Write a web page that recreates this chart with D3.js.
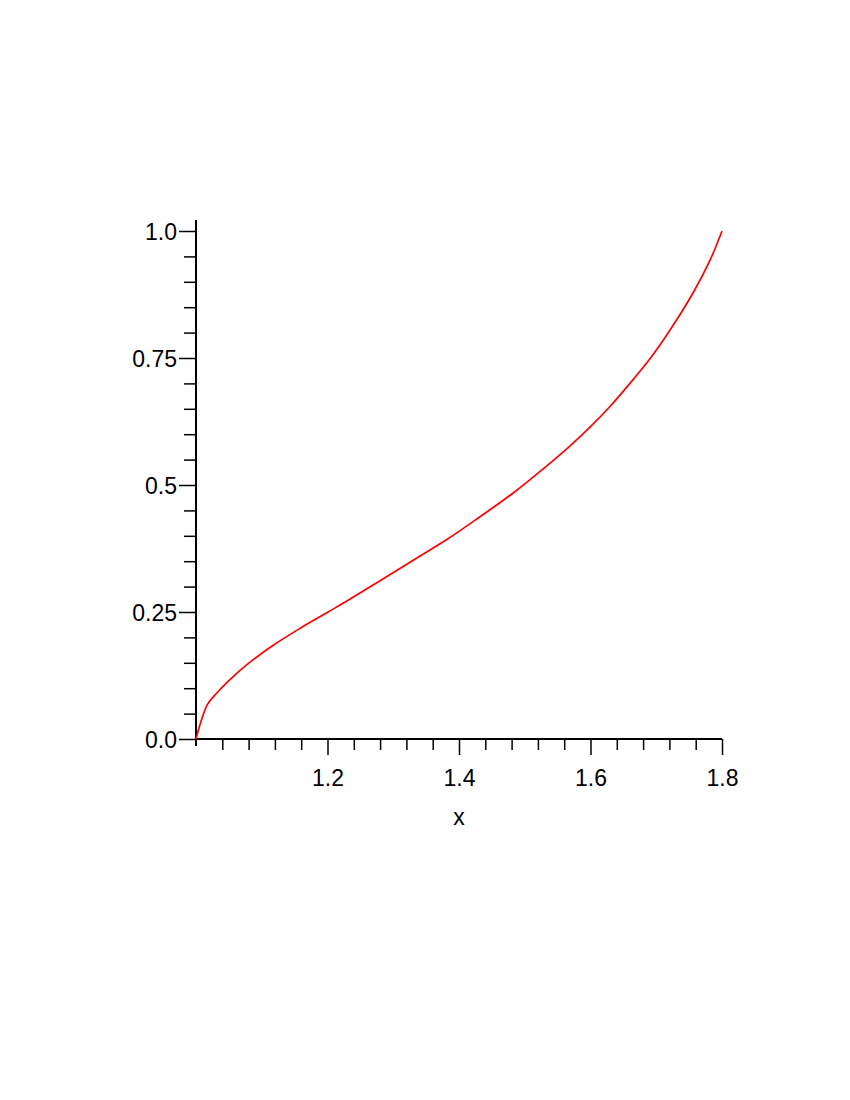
<!DOCTYPE html>
<html>
<head>
<meta charset="utf-8">
<script src="https://cdn.jsdelivr.net/npm/d3@7"></script>
<style>
  body { margin: 0; background: #fff; }
  svg text { font-family: "Liberation Sans", Arial, sans-serif; }
</style>
</head>
<body>
<div id="chart"></div>
<script>
// curve samples
const xValues = [1.0, 1.0175, 1.032, 1.052, 1.077, 1.118, 1.1585, 1.199, 1.232, 1.280, 1.331, 1.382,
                 1.432, 1.483, 1.534, 1.569, 1.600, 1.630, 1.660, 1.691, 1.721, 1.757, 1.782, 1.8];
const yValues = [0.0, 0.068, 0.091, 0.1175, 0.146, 0.185, 0.218, 0.2486, 0.2736, 0.3116, 0.3524, 0.3931,
                 0.4376, 0.4848, 0.538, 0.577, 0.6148, 0.655, 0.700, 0.7494, 0.8051, 0.8805, 0.943, 1.0];

const xMajorTicks = [1.2, 1.4, 1.6, 1.8];
const xMinorTicks = [1.04, 1.08, 1.12, 1.16, 1.24, 1.28, 1.32, 1.36, 1.44, 1.48, 1.52, 1.56, 1.64, 1.68, 1.72, 1.76];
const yMajorTicks = [0.0, 0.25, 0.5, 0.75, 1.0];
const yTickLabels = ["0.0", "0.25", "0.5", "0.75", "1.0"];
const yMinorTicks = [0.05, 0.1, 0.15, 0.2, 0.3, 0.35, 0.4, 0.45, 0.55, 0.6, 0.65, 0.7, 0.8, 0.85, 0.9, 0.95];
const xLabel = "x";

const width = 850, height = 1100;
const fontSize = "23px";

const svg = d3.select("#chart").append("svg")
    .attr("width", width)
    .attr("height", height);

const x = d3.scaleLinear().domain([1.0, 1.8]).range([196, 722]);
const y = d3.scaleLinear().domain([0, 1.0]).range([739, 231]);

// minor ticks first, no labels
const xMinor = svg.append("g")
    .attr("transform", `translate(0,${y(0)})`)
    .call(d3.axisBottom(x).tickValues(xMinorTicks).tickSize(11).tickFormat(""));

const yMinor = svg.append("g")
    .attr("transform", `translate(${x(1.0)},0)`)
    .call(d3.axisLeft(y).tickValues(yMinorTicks).tickSize(12).tickFormat(""));

const xAxis = svg.append("g")
    .attr("transform", `translate(0,${y(0)})`)
    .call(d3.axisBottom(x).tickValues(xMajorTicks).tickSize(16).tickSizeOuter(0).tickPadding(15).tickFormat(d3.format(".1f")));

const yAxis = svg.append("g")
    .attr("transform", `translate(${x(1.0)},0)`)
    .call(d3.axisLeft(y).tickValues(yMajorTicks).tickSize(17).tickSizeOuter(0).tickPadding(2)
        .tickFormat((d, i) => yTickLabels[i]));

[xMinor, yMinor, xAxis, yAxis].forEach(g => {
    g.selectAll(".domain").remove();
    g.selectAll(".tick line").attr("stroke", "#000").attr("stroke-width", 1.5);
    g.selectAll(".tick text")
        .attr("fill", "#000")
        .style("font-size", fontSize)
        .style("font-family", "'Liberation Sans', Arial, sans-serif");
});
yAxis.selectAll(".tick text").attr("dy", "0.38em");

// axis lines
svg.append("line")
    .attr("x1", x(1.0)).attr("x2", x(1.8))
    .attr("y1", y(0)).attr("y2", y(0))
    .attr("stroke", "#000").attr("stroke-width", 2);

svg.append("line")
    .attr("x1", x(1.0)).attr("x2", x(1.0))
    .attr("y1", y(0) + 7).attr("y2", y(1.0) - 11)
    .attr("stroke", "#000").attr("stroke-width", 2);

svg.append("text")
    .attr("x", x(1.4))
    .attr("y", 825)
    .attr("text-anchor", "middle")
    .style("font-size", fontSize)
    .text(xLabel);

const points = xValues.map((d, i) => [d, yValues[i]]);

const line = d3.line()
    .x(d => x(d[0]))
    .y(d => y(d[1]))
    .curve(d3.curveCatmullRom.alpha(0.5));

svg.append("path")
    .datum(points)
    .attr("d", line)
    .attr("fill", "none")
    .attr("stroke", "#ff0000")
    .attr("stroke-width", 1.7);
</script>
</body>
</html>
